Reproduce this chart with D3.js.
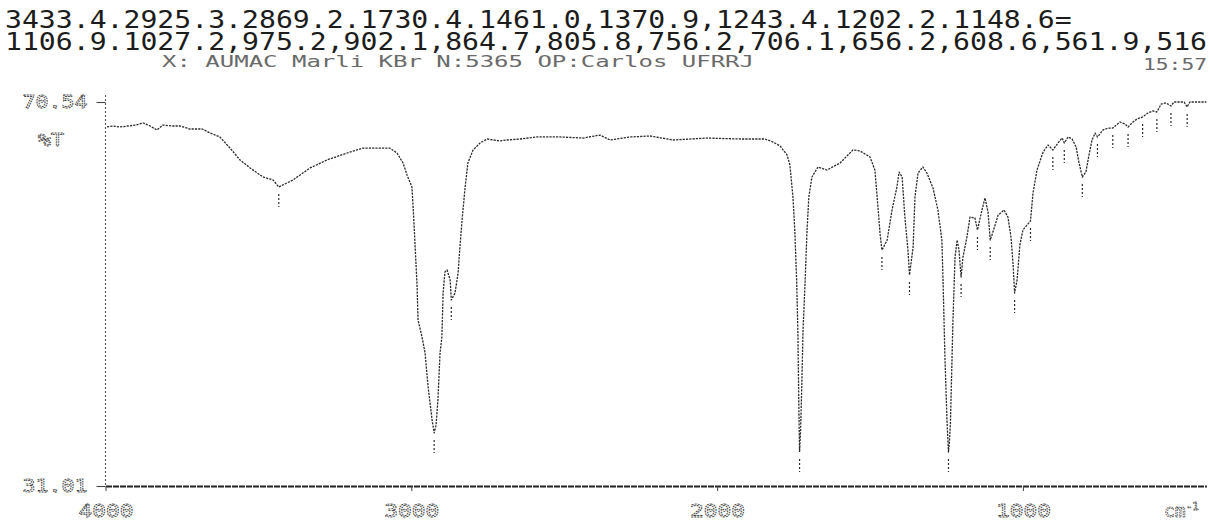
<!DOCTYPE html>
<html>
<head>
<meta charset="utf-8">
<script src="https://cdn.jsdelivr.net/npm/d3@7"></script>
<style>
  html, body { margin: 0; padding: 0; background: #fff; }
  svg { display: block; }
</style>
</head>
<body>
<svg id="chart" width="1210" height="523"></svg>
<script>
// IR spectrum (KBr pellet): wavenumber in cm-1 and transmittance in %T
const wavenumbers = [
  3995, 3975, 3953, 3926, 3900, 3877, 3854, 3832, 3812, 3783, 3756, 3724, 3684, 3658, 3626,
  3593, 3560, 3527, 3485, 3452, 3433.4, 3387, 3331, 3276, 3210, 3158, 3070, 3047, 3027, 3014,
  2998, 2994, 2988, 2981, 2978, 2965, 2955, 2945, 2932, 2925.3, 2919, 2913, 2906, 2900, 2896,
  2890, 2883, 2873, 2869.2, 2857, 2847, 2841, 2834, 2824, 2815, 2798, 2775, 2752, 2710, 2687,
  2645, 2589, 2514, 2438, 2383, 2350, 2285, 2219, 2144, 2033, 1925, 1843, 1817, 1794, 1771,
  1762, 1752, 1746, 1740, 1736, 1733, 1730.4, 1727, 1723, 1719, 1712, 1706, 1700, 1690, 1670,
  1641, 1598, 1556, 1533, 1500, 1484, 1474, 1467, 1461.0, 1444, 1428, 1412, 1405, 1395, 1386,
  1376, 1370.9, 1359, 1353, 1343, 1327, 1314, 1294, 1278, 1265, 1261, 1255, 1248, 1243.4, 1240,
  1237, 1229, 1222, 1215, 1209, 1202.2, 1196, 1183, 1173, 1157, 1148.6, 1134, 1124, 1114, 1106.9,
  1098, 1081, 1062, 1049, 1039, 1032, 1027.2, 1019, 1010, 1000, 975.2, 967, 954, 934, 918,
  902.1, 885, 872, 864.7, 852, 839, 826, 817, 805.8, 794, 784, 774, 764, 756.2, 738,
  722, 706.1, 683, 666, 656.2, 640, 627, 608.6, 591, 575, 561.9, 548, 532, 516, 506,
  486, 473, 463, 454, 400
];
const transmittance = [
  67.97, 68.07, 67.97, 68.07, 68.17, 68.38, 68.07, 67.66, 68.17, 68.07, 68.07, 67.76, 67.76, 67.35, 66.94,
  65.80, 64.57, 63.75, 62.82, 62.51, 61.79, 62.51, 63.75, 64.57, 65.29, 65.80, 65.80, 65.29, 64.26, 63.03,
  61.79, 59.73, 56.02, 51.50, 48.10, 46.35, 44.70, 41.20, 37.80, 36.47, 37.29, 39.86, 44.70, 46.35, 50.88,
  53.04, 53.24, 52.22, 50.16, 50.88, 52.94, 55.61, 58.39, 61.79, 64.26, 65.60, 66.32, 66.73, 66.53, 66.63,
  66.73, 66.94, 66.94, 66.83, 67.14, 66.63, 66.94, 67.04, 66.63, 66.83, 66.73, 66.73, 66.42, 66.01, 65.08,
  64.05, 60.76, 57.36, 52.22, 47.07, 39.86, 34.51, 36.77, 41.50, 47.07, 52.22, 57.36, 60.76, 62.82, 63.85,
  63.54, 64.26, 65.60, 65.50, 64.88, 63.54, 59.73, 56.90, 55.30, 56.33, 59.42, 61.79, 63.33, 62.82, 58.70,
  55.30, 52.73, 55.61, 60.76, 63.23, 63.85, 63.23, 61.69, 59.42, 56.33, 51.91, 44.29, 37.50, 34.51, 35.74,
  37.50, 47.79, 54.58, 56.33, 55.30, 52.52, 54.58, 56.64, 58.70, 58.60, 57.36, 59.42, 60.66, 59.20, 56.33,
  57.15, 58.90, 59.42, 58.70, 56.64, 53.76, 50.88, 52.22, 55.80, 57.36, 58.30, 61.17, 63.54, 65.39, 66.11,
  65.60, 66.32, 66.83, 66.32, 66.94, 66.73, 65.90, 64.36, 62.82, 63.33, 65.08, 66.63, 67.35, 66.94, 67.66,
  67.86, 67.86, 68.48, 68.28, 67.97, 68.48, 68.79, 69.00, 69.41, 69.62, 69.51, 70.33, 70.44, 70.13, 70.54,
  70.54, 70.54, 70.03, 70.54, 70.54
];

// Peaks picked by the instrument (marked under the trace)
const peakMarks = [3433.4, 2925.3, 2869.2, 1730.4, 1461.0, 1370.9, 1243.4, 1202.2, 1148.6,
  1106.9, 1027.2, 975.2, 902.1, 864.7, 805.8, 756.2, 706.1, 656.2, 608.6, 561.9, 516, 463];

// Printed header
const headerLines = [
  "3433.4.2925.3.2869.2.1730.4.1461.0,1370.9,1243.4.1202.2.1148.6=",
  "1106.9.1027.2,975.2,902.1,864.7,805.8,756.2,706.1,656.2,608.6,561.9,516"
];
const sampleInfo = "X: AUMAC Marli KBr N:5365 OP:Carlos UFRRJ";
const timeStamp = "15:57";

// Axis ticks and labels
const xTicks = [4000, 3000, 2000, 1000];
const yTicks = [70.54, 31.01];
const yUnit = "%T";
const xUnit = "cm";
const xUnitExp = "-1";

const svg = d3.select("#chart");
const ink = "#2b2b2b";
const grayInk = "#6a6a6a";
const mono = "'DejaVu Sans Mono', 'Liberation Mono', monospace";

const x = d3.scaleLinear().domain([4000, 400]).range([105.5, 1206.4]);
const y = d3.scaleLinear().domain([31.01, 70.54]).range([486, 102]);

// Header text
svg.selectAll("text.header")
  .data(headerLines)
  .join("text")
  .attr("class", "header")
  .attr("x", 5)
  .attr("y", (d, i) => 28 + i * 22)
  .attr("font-family", mono)
  .attr("font-size", 25.5)
  .attr("fill", "#1c1c1c")
  .attr("textLength", d => d.length * 16.93)
  .attr("lengthAdjust", "spacingAndGlyphs")
  .text(d => d);

svg.append("text")
  .attr("x", 162).attr("y", 67)
  .attr("font-family", mono).attr("font-size", 16)
  .attr("fill", grayInk)
  .attr("textLength", 592).attr("lengthAdjust", "spacingAndGlyphs")
  .text(sampleInfo);

svg.append("text")
  .attr("x", 1143).attr("y", 70)
  .attr("font-family", mono).attr("font-size", 16)
  .attr("fill", grayInk)
  .attr("textLength", 64).attr("lengthAdjust", "spacingAndGlyphs")
  .text(timeStamp);

// Y axis (dotted frame line plus labelled ends)
svg.append("line")
  .attr("x1", x(4000)).attr("x2", x(4000))
  .attr("y1", 95).attr("y2", y(31.01))
  .attr("stroke", "#555").attr("stroke-width", 1.1)
  .attr("stroke-dasharray", "2,2");

const yAxis = svg.append("g")
  .attr("transform", `translate(${x(4000)},0)`)
  .call(d3.axisLeft(y).tickValues(yTicks).tickFormat(d3.format(".2f"))
    .tickSize(9).tickPadding(9));
yAxis.select(".domain").remove();
yAxis.selectAll(".tick line").attr("stroke", "#444").attr("stroke-width", 1.1);
yAxis.selectAll(".tick text")
  .attr("font-family", mono).attr("font-size", 18)
  .attr("fill", "none").attr("stroke", "#444").attr("stroke-width", 0.9)
  .attr("stroke-dasharray", "1.6,0.8")
  .attr("textLength", 65).attr("lengthAdjust", "spacingAndGlyphs");

svg.append("text")
  .attr("x", 38).attr("y", 146)
  .attr("font-family", mono).attr("font-size", 17)
  .attr("fill", "none").attr("stroke", "#555").attr("stroke-width", 0.9)
  .attr("stroke-dasharray", "1.6,0.8")
  .attr("textLength", 26).attr("lengthAdjust", "spacingAndGlyphs")
  .text(yUnit);

// X axis
const xAxis = svg.append("g")
  .attr("transform", `translate(0,${y(31.01)})`)
  .call(d3.axisBottom(x).tickValues(xTicks).tickFormat(d3.format("d"))
    .tickSize(5).tickSizeOuter(0).tickPadding(0));
xAxis.select(".domain").attr("stroke", "#222").attr("stroke-width", 2)
  .attr("stroke-dasharray", "6,1");
xAxis.selectAll(".tick line").attr("stroke", "#444").attr("stroke-width", 1);
xAxis.selectAll(".tick text")
  .attr("y", 31).attr("dy", null)
  .attr("font-family", mono).attr("font-size", 18)
  .attr("fill", "none").attr("stroke", "#444").attr("stroke-width", 0.9)
  .attr("stroke-dasharray", "1.6,0.8")
  .attr("textLength", 55).attr("lengthAdjust", "spacingAndGlyphs");

const unit = svg.append("text")
  .attr("x", 1164).attr("y", 517)
  .attr("font-family", mono).attr("font-size", 18)
  .attr("fill", "none").attr("stroke", "#555").attr("stroke-width", 0.9)
  .attr("stroke-dasharray", "1.6,0.8");
unit.append("tspan").text(xUnit);
unit.append("tspan").attr("font-size", 11).attr("dy", -7).text(xUnitExp);

// Spectrum trace
const spectrum = wavenumbers.map((w, i) => ({ w, t: transmittance[i] }));
const trace = d3.line().x(d => x(d.w)).y(d => y(d.t));
svg.append("path")
  .datum(spectrum)
  .attr("d", trace)
  .attr("fill", "none")
  .attr("stroke", ink)
  .attr("stroke-width", 1.3)
  .attr("stroke-dasharray", "2.2,1.1")
  .attr("stroke-linejoin", "round");

// Transmittance at a given wavenumber (linear between recorded points)
function tAt(w) {
  for (let i = 0; i < spectrum.length - 1; i++) {
    const a = spectrum[i], b = spectrum[i + 1];
    if (w <= a.w && w >= b.w) {
      const f = (a.w - w) / (a.w - b.w);
      return a.t + f * (b.t - a.t);
    }
  }
  return spectrum[spectrum.length - 1].t;
}

// Peak markers below each picked minimum
svg.selectAll("line.peak")
  .data(peakMarks)
  .join("line")
  .attr("class", "peak")
  .attr("x1", d => x(d)).attr("x2", d => x(d))
  .attr("y1", d => y(tAt(d)) + 7)
  .attr("y2", d => y(tAt(d)) + 20)
  .attr("stroke", ink)
  .attr("stroke-width", 1.2)
  .attr("stroke-dasharray", "2,2");
</script>
</body>
</html>
